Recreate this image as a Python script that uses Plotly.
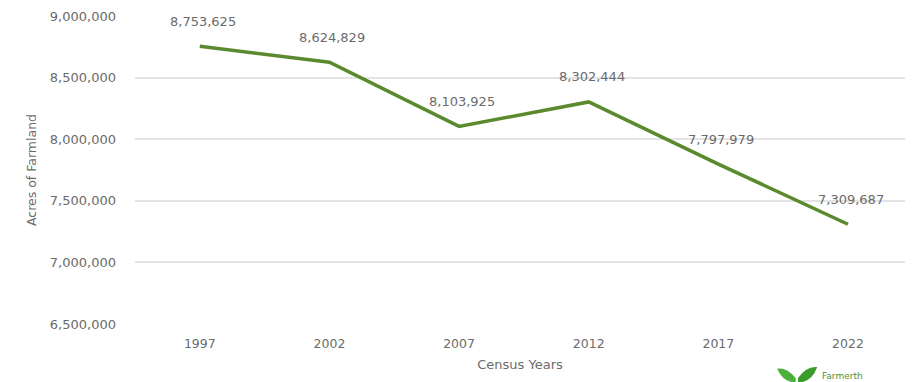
import plotly.graph_objects as go

years = ["1997", "2002", "2007", "2012", "2017", "2022"]
acres = [8753625, 8624829, 8103925, 8302444, 7797979, 7309687]
y_ticks = [6500000, 7000000, 7500000, 8000000, 8500000, 9000000]
y_tick_text = [f"{v:,}" for v in y_ticks]

FONT = "DejaVu Sans"
GRAY = "#6b6b6b"
GREEN = "#5a8a2e"

fig = go.Figure()
fig.add_trace(go.Scatter(
    x=years, y=acres, mode="lines",
    line=dict(color=GREEN, width=3.5),
    hoverinfo="skip", showlegend=False,
))

for i, v in enumerate(acres):
    fig.add_annotation(
        x=i, y=v, text=f"{v:,}", showarrow=False,
        yshift=25, xshift=3,
        font=dict(family=FONT, size=13, color=GRAY),
    )

fig.update_layout(
    width=914, height=382,
    margin=dict(l=135, r=9, t=14, b=58),
    paper_bgcolor="white", plot_bgcolor="white",
    font=dict(family=FONT, size=13, color=GRAY),
)
fig.update_xaxes(
    type="category", range=[-0.5, 5.44],
    showgrid=False, showline=False, zeroline=False,
    ticks="", ticklabelstandoff=10,
    tickfont=dict(family=FONT, size=12.5, color=GRAY),
    title=dict(text="Census Years", font=dict(family=FONT, size=13, color=GRAY), standoff=10),
)
fig.update_yaxes(
    range=[6500000, 9000000],
    tickvals=y_ticks, ticktext=y_tick_text,
    showgrid=True, gridcolor="#e4e4e4", gridwidth=1.5,
    zeroline=False, showline=False, ticks="",
    ticklabelstandoff=18,
    tickfont=dict(family=FONT, size=13, color=GRAY),
    title=dict(text="Acres of Farmland", font=dict(family=FONT, size=12.5, color=GRAY), standoff=10),
)

# small leaf logo at bottom right (decoration)
fig.add_shape(type="path", xref="paper", yref="paper",
              path="M 0.858 -0.175 Q 0.846 -0.14 0.834 -0.145 Q 0.842 -0.19 0.858 -0.19 Z",
              fillcolor="#4caf3a", line=dict(width=0))
fig.add_shape(type="path", xref="paper", yref="paper",
              path="M 0.861 -0.175 Q 0.873 -0.135 0.886 -0.14 Q 0.879 -0.19 0.861 -0.19 Z",
              fillcolor="#3c9a2e", line=dict(width=0))
fig.add_annotation(xref="paper", yref="paper", x=0.89, y=-0.19, text="Farmerth",
                   showarrow=False, xanchor="left", yanchor="bottom",
                   font=dict(family=FONT, size=9, color="#4a8f3a"))

fig.write_html("out.html")
